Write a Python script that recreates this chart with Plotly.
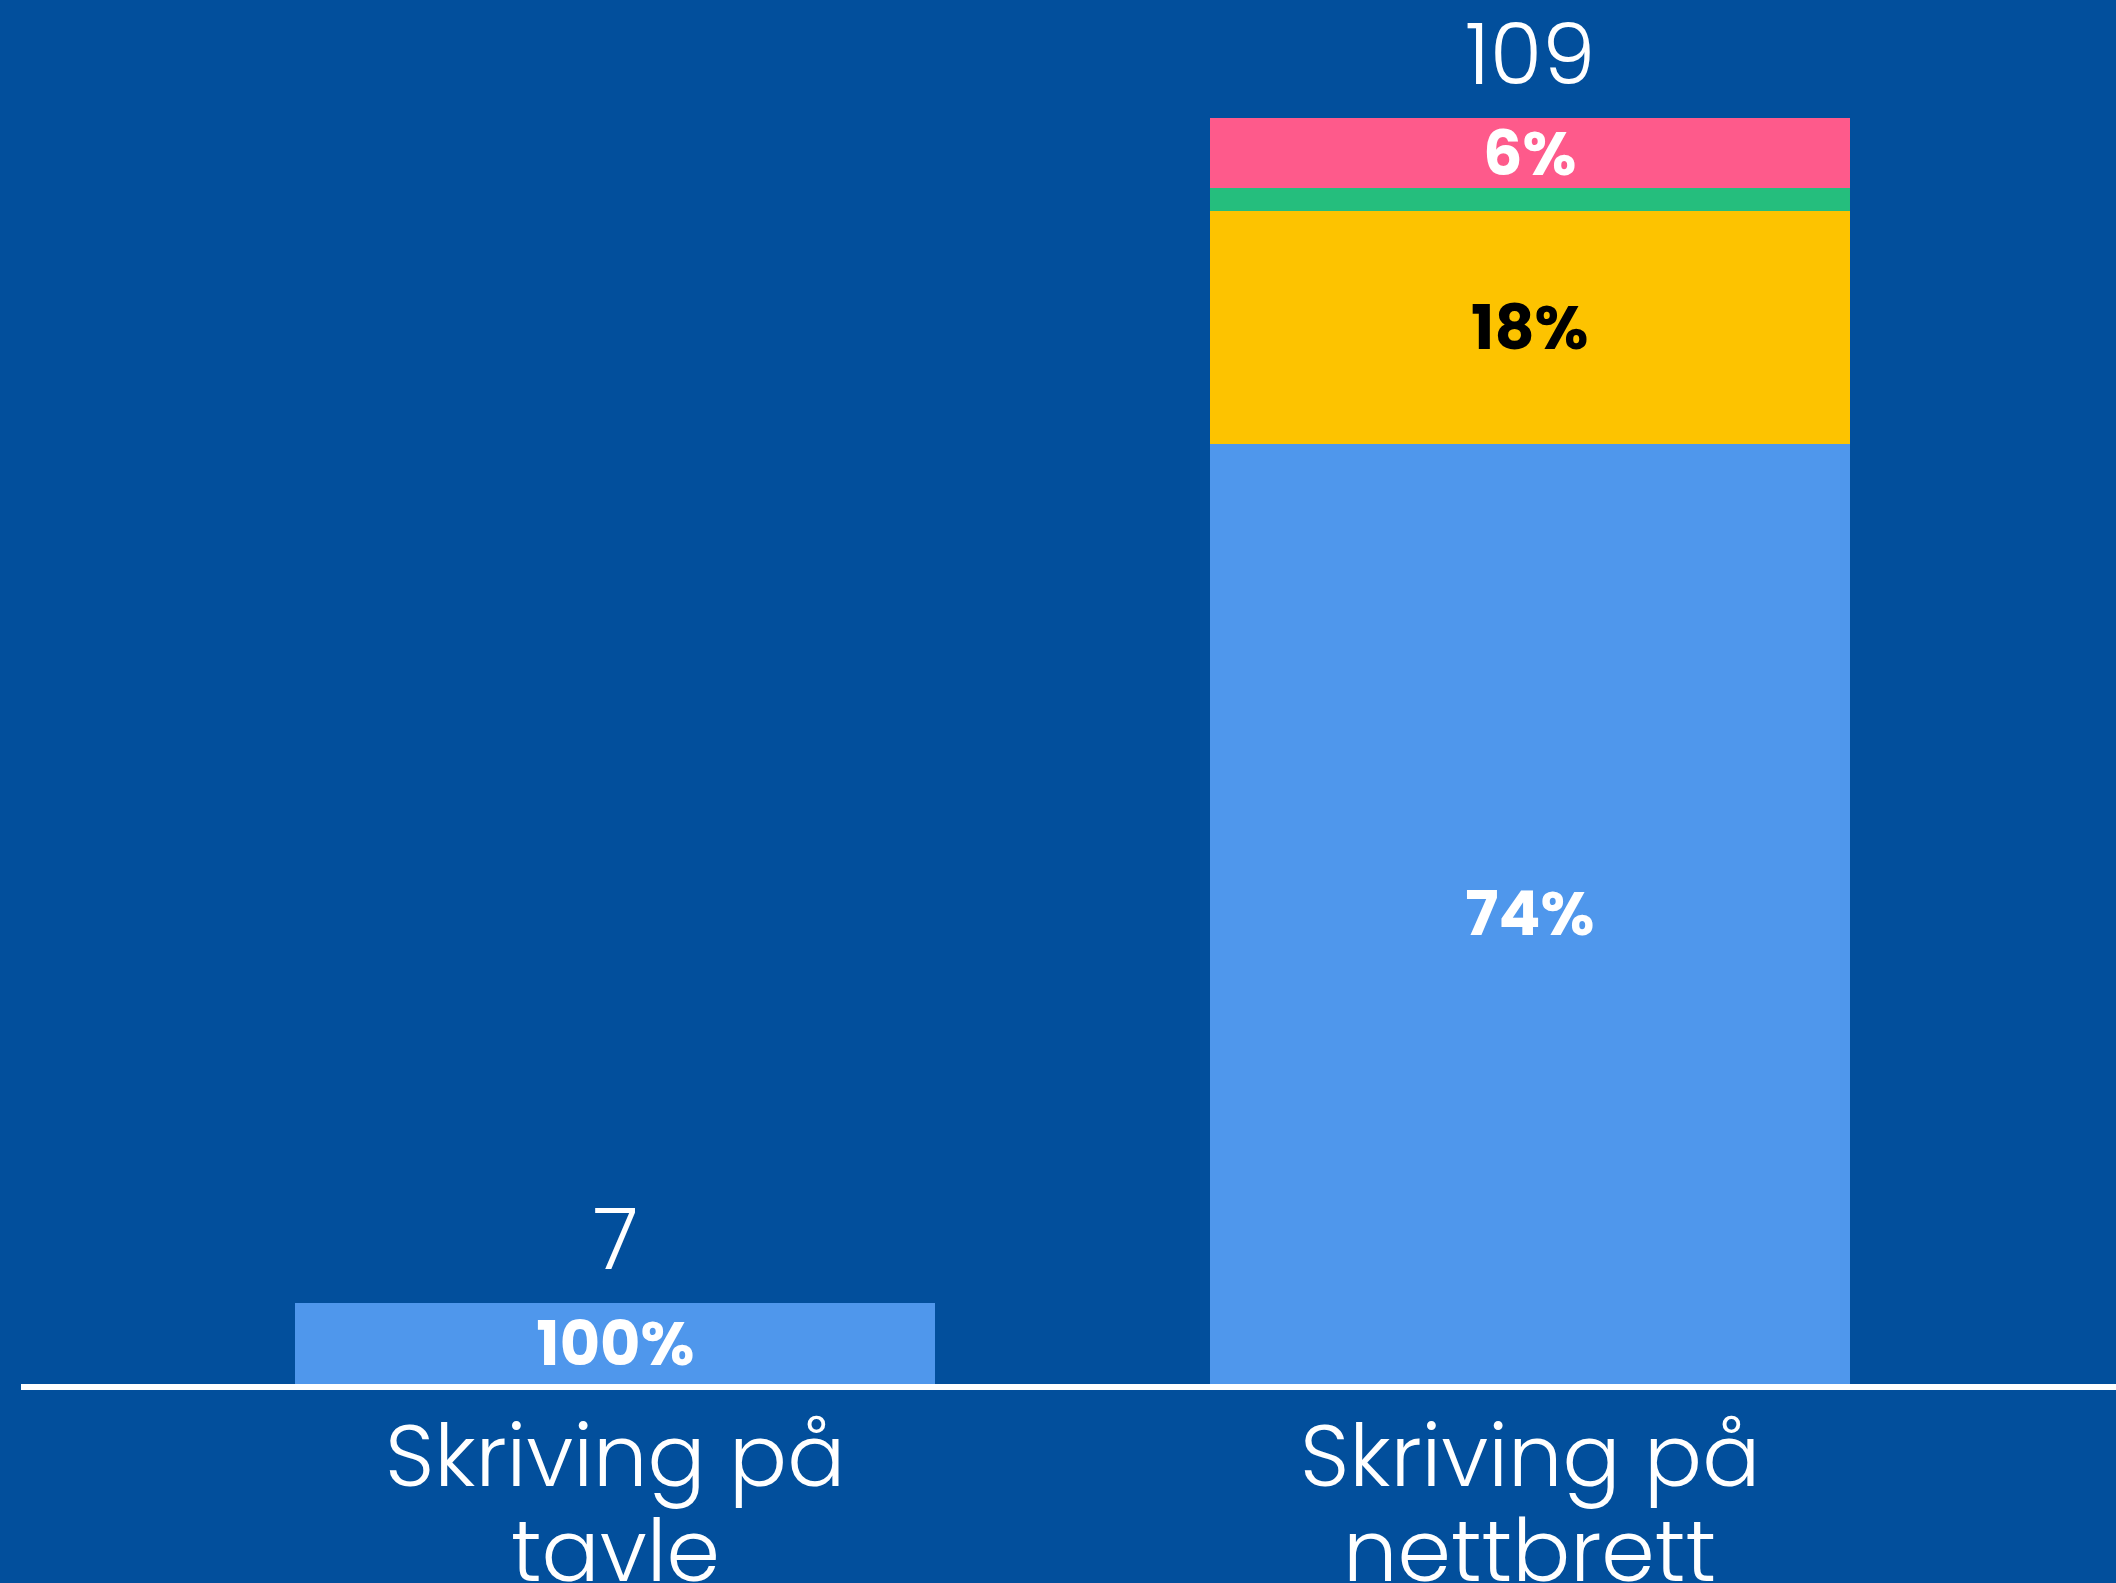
import plotly.graph_objects as go

categories = ["Skriving på<br>tavle", "Skriving på<br>nettbrett"]
series_names = ["Blå", "Gul", "Grønn", "Rosa"]
series_values = {
    "Blå": [7, 81],
    "Gul": [0, 20],
    "Grønn": [0, 2],
    "Rosa": [0, 6],
}
series_colors = {
    "Blå": "#4F97EC",
    "Gul": "#FDC300",
    "Grønn": "#25BE7D",
    "Rosa": "#FE5A8B",
}
text_colors = {
    "Blå": "white",
    "Gul": "black",
    "Grønn": "white",
    "Rosa": "white",
}

totals = [sum(series_values[s][i] for s in series_names) for i in range(len(categories))]

BG = "#024F9C"
FONT = "Poppins, Lato, Roboto, sans-serif"

fig = go.Figure()
for s in series_names:
    vals = series_values[s]
    texts = []
    for i, v in enumerate(vals):
        pct = v / totals[i] * 100 if totals[i] else 0
        texts.append(f"{round(pct)}%" if pct >= 3 else "")
    fig.add_trace(go.Bar(
        x=categories, y=vals, name=s,
        marker=dict(color=series_colors[s], line=dict(width=0)),
        text=texts, textposition="inside", insidetextanchor="middle",
        textangle=0, constraintext="none",
        insidetextfont=dict(family=FONT, size=62, color=text_colors[s], weight=700),
        width=0.70,
    ))

# totals above bars
for i, c in enumerate(categories):
    fig.add_annotation(
        x=c, y=totals[i], text=str(totals[i]), showarrow=False,
        yanchor="bottom", yshift=2,
        font=dict(family=FONT, size=85, color="white", weight=300),
    )

# category labels (one annotation per line for tighter line spacing)
LINE_STEP = 95
for c in categories:
    for j, line in enumerate(c.split("<br>")):
        fig.add_annotation(
            x=c, y=0, yref="paper", text=line, showarrow=False,
            yanchor="top", yshift=-10 - j * LINE_STEP,
            font=dict(family=FONT, size=86, color="white", weight=300),
        )

fig.update_layout(
    width=2116, height=1583,
    barmode="stack",
    paper_bgcolor=BG, plot_bgcolor=BG,
    margin=dict(l=21, r=0, t=0, b=199, autoexpand=False),
    showlegend=False,
    uniformtext=dict(minsize=62, mode="show"),
    xaxis=dict(
        type="category", range=[-0.650, 1.641], automargin=False,
        showline=True, linecolor="white", linewidth=6,
        showgrid=False, zeroline=False, ticks="", showticklabels=False,
        fixedrange=True,
    ),
    yaxis=dict(
        range=[0, 119.2], visible=False, showgrid=False, zeroline=False,
        automargin=False,
    ),
)

fig.write_html(
    "out.html",
    config={"displayModeBar": False},
    post_script="document.body.style.margin='0';document.body.style.background='%s';" % BG,
)
